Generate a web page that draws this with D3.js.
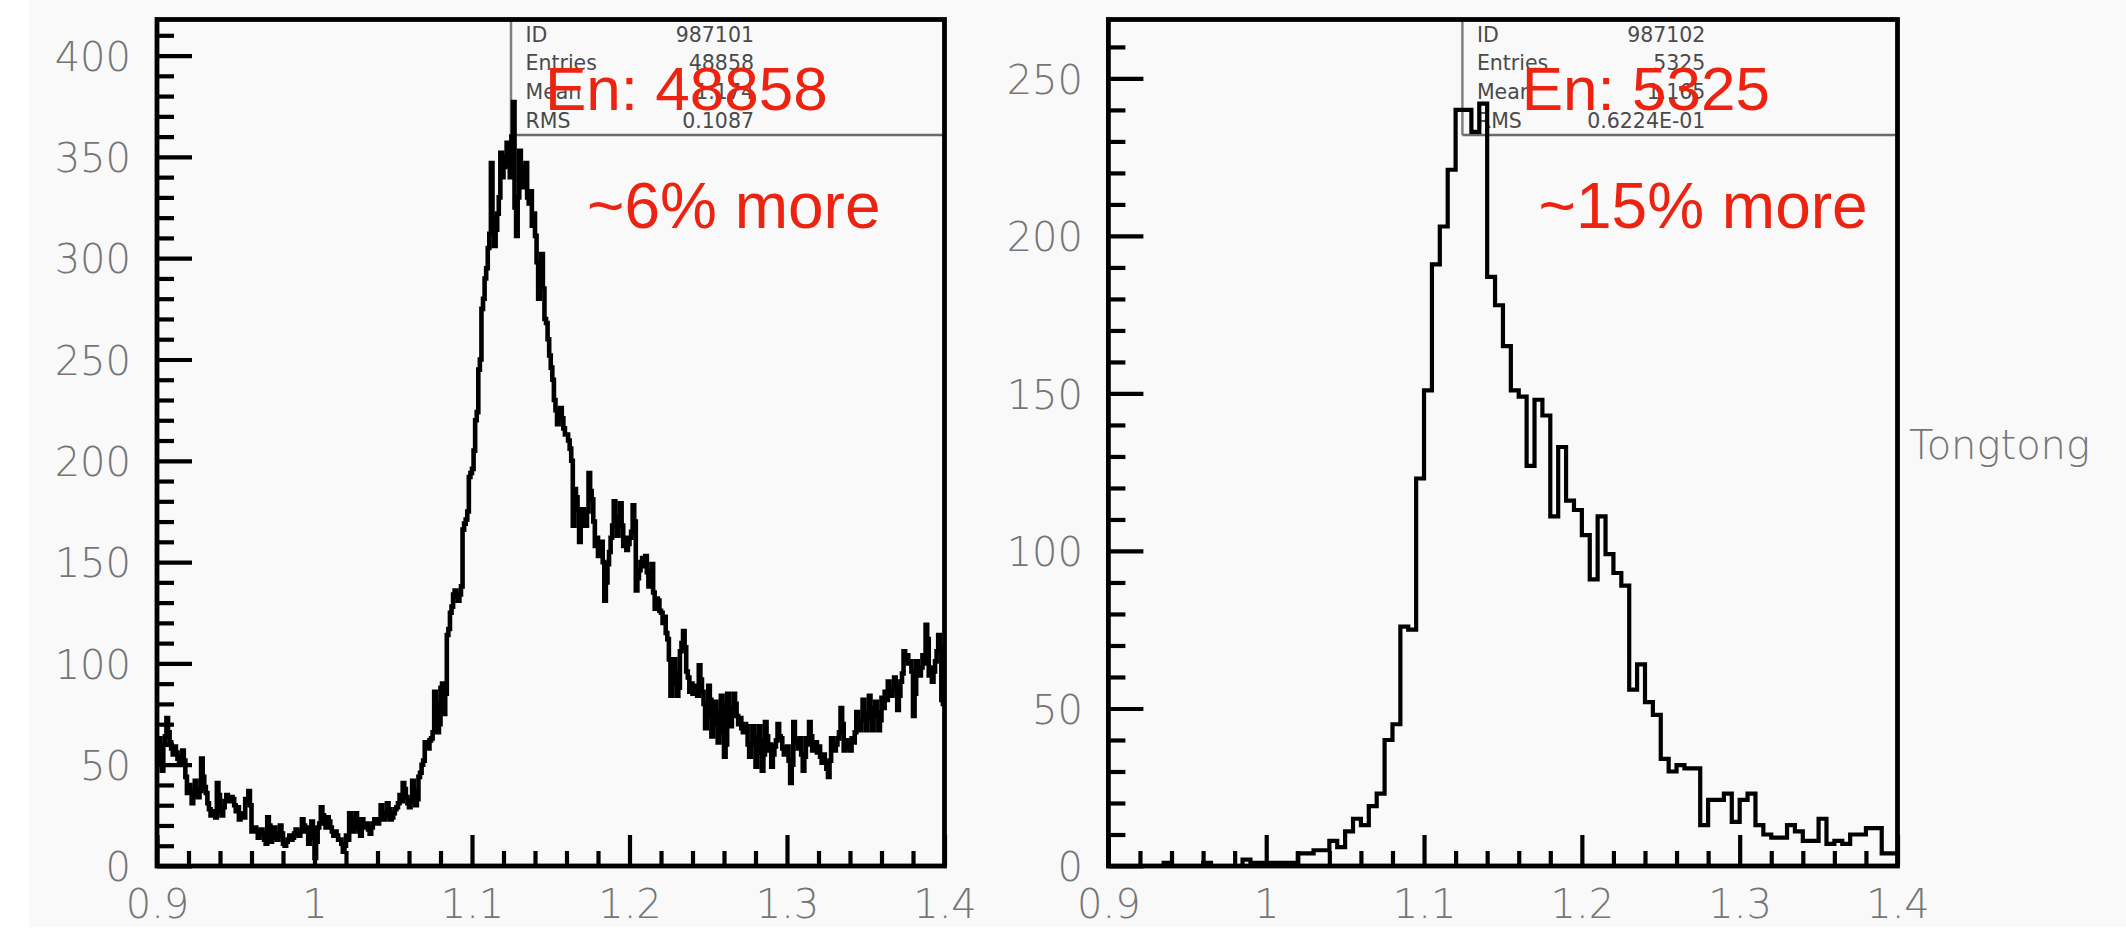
<!DOCTYPE html>
<html><head><meta charset="utf-8">
<script src="https://cdn.jsdelivr.net/npm/d3@7"></script>
<style>
html,body{margin:0;padding:0;background:#fff;}
svg{display:block;}
</style></head><body>
<svg id="c" width="2126" height="937"></svg>
<script>
// ---------- data ----------
const xRange = [0.9, 1.4];
const xTickValues = [0.9, 1.0, 1.1, 1.2, 1.3, 1.4];
const xTickLabels = ["0.9", "1", "1.1", "1.2", "1.3", "1.4"];
const leftYTicks = [0, 50, 100, 150, 200, 250, 300, 350, 400];
const rightYTicks = [0, 50, 100, 150, 200, 250];
const leftYMax = 417.8;
const rightYMax = 268.7;

// ID 987101 : 500 bins of 0.001 from 0.9 to 1.4
const leftCounts = [
58,63,52,47,60,64,73,66,61,58,55,59,56,53,50,54,57,52,44,36,40,37,31,35,42,38,34,37,53,44,39,36,31,28,25,27,26,24,41,35,27,25,29,32,35,33,32,34,33,30,
27,29,23,25,26,24,33,31,37,30,17,19,19,17,14,16,18,16,13,11,24,20,12,14,19,16,13,15,20,16,11,10,12,13,15,13,14,16,18,16,15,17,23,20,17,19,11,14,22,18,
4,12,19,21,29,25,21,19,24,22,19,17,15,17,15,13,13,11,7,10,15,13,26,24,17,19,26,23,17,15,23,21,19,21,18,16,19,21,23,21,21,23,30,26,23,25,31,28,23,24,
26,28,29,31,35,32,41,38,34,31,29,32,42,37,30,33,44,46,50,52,61,60,58,62,63,66,86,80,66,70,88,90,75,85,114,117,125,128,134,136,133,131,134,138,166,169,171,175,192,194,
196,205,220,224,245,250,275,280,290,295,305,312,347,320,306,314,322,330,352,340,345,350,357,346,340,360,377,325,311,330,353,345,335,342,347,330,327,333,316,322,311,298,280,295,302,285,270,268,260,252,
246,240,230,225,218,222,226,221,216,213,213,210,206,200,168,186,182,176,160,168,176,172,168,175,194,185,181,170,158,162,153,156,160,150,131,140,149,155,162,168,180,172,163,170,179,168,158,162,156,159,
162,165,178,170,136,142,146,150,152,148,153,145,138,142,149,135,127,132,131,126,125,120,123,115,112,102,84,90,102,96,84,88,106,110,116,108,96,93,86,90,85,88,89,84,99,92,86,80,68,74,
89,82,64,70,81,76,61,66,84,80,54,60,85,78,69,74,85,80,74,70,73,68,66,70,69,60,54,60,69,64,49,56,69,62,47,55,71,64,57,60,49,55,59,62,70,64,63,58,55,58,
59,52,41,50,71,62,61,58,63,55,47,54,63,60,71,64,57,60,61,56,59,54,51,55,51,48,44,52,63,58,57,60,63,66,78,70,57,62,61,58,57,63,61,66,76,70,67,72,82,76,
67,72,84,78,67,74,81,76,67,72,83,78,86,82,91,88,84,87,93,88,77,84,91,95,106,102,104,100,101,96,74,85,101,96,94,98,104,100,119,112,94,98,91,96,101,106,114,108,82,80
];

// ID 987102 : 100 bins of 0.005 from 0.9 to 1.4
const rightCounts = [
0,0,0,0,0,0,0,1,0,0,
0,0,1,0,0,0,0,2,1,1,
1,1,1,1,4,4,5,5,8,6,
11,15,13,19,23,40,45,76,75,123,
151,191,203,221,240,240,233,242,187,178,
165,151,149,127,148,143,111,133,116,113,
105,91,111,99,93,89,56,64,52,48,
34,30,32,31,31,13,21,21,23,14,
21,23,13,10,9,9,13,11,8,8,
15,7,8,7,10,10,12,12,4,4
];

const leftStatLabels = ["ID", "Entries", "Mean", "RMS"];
const leftStatValues = ["987101", "48858", "1.174", "0.1087"];
const rightStatLabels = ["ID", "Entries", "Mean", "RMS"];
const rightStatValues = ["987102", "5325", "1.165", "0.6224E-01"];
const leftNotes = ["En: 48858", "~6% more"];
const rightNotes = ["En: 5325", "~15% more"];
const sideLabel = "Tongtong";

// ---------- drawing ----------
const svg = d3.select("#c");
svg.append("rect").attr("x", 29).attr("y", 0).attr("width", 2126 - 29).attr("height", 927).attr("fill", "#f9f9f9");

const plotTop = 19.5, plotBottom = 866;
const labelFont = "'DejaVu Sans', sans-serif";
const labelColor = "#757575";

function panel(cfg) {
  const x = d3.scaleLinear().domain(xRange).range([cfg.x0, cfg.x1]);
  const y = d3.scaleLinear().domain([0, cfg.ymax]).range([plotBottom, plotTop]);
  const g = svg.append("g");

  // stats box
  const bx = cfg.x0 + 354, by = 135;
  g.append("line").attr("x1", bx).attr("x2", bx).attr("y1", plotTop).attr("y2", by)
    .attr("stroke", "#808080").attr("stroke-width", 2.5);
  g.append("line").attr("x1", bx).attr("x2", cfg.x1).attr("y1", by).attr("y2", by)
    .attr("stroke", "#6a6a6a").attr("stroke-width", 2.5);
  const baselines = [41.5, 70, 98.5, 127.5];
  cfg.statLabels.forEach((s, i) => {
    g.append("text").attr("x", bx + 14.5).attr("y", baselines[i]).text(s)
      .attr("font-family", labelFont).attr("font-size", 20.5).attr("fill", "#4a4a4a");
    g.append("text").attr("x", bx + 243).attr("y", baselines[i]).text(cfg.statValues[i])
      .attr("text-anchor", "end")
      .attr("font-family", labelFont).attr("font-size", 20.5).attr("fill", "#4a4a4a");
  });

  // minor / major ticks (inside)
  const minorY = d3.range(10, cfg.ymax, 10).filter(v => v % 50 !== 0);
  const majorY = cfg.yTicks;
  const yMinorAxis = d3.axisRight(y).tickValues(minorY).tickSize(17).tickFormat("");
  const yMajorAxis = d3.axisRight(y).tickValues(majorY).tickSize(35).tickFormat("");
  [yMinorAxis, yMajorAxis].forEach(ax => {
    const a = g.append("g").attr("transform", `translate(${cfg.x0},0)`).call(ax);
    a.select(".domain").remove();
    a.selectAll("line").attr("stroke", "#000").attr("stroke-width", 4.2);
  });
  const minorX = d3.range(0, 26).map(i => 0.9 + i * 0.02).filter((v, i) => i % 5 !== 0);
  const xMinorAxis = d3.axisTop(x).tickValues(minorX).tickSize(15).tickFormat("");
  const xMajorAxis = d3.axisTop(x).tickValues(xTickValues).tickSize(31).tickFormat("");
  [xMinorAxis, xMajorAxis].forEach(ax => {
    const a = g.append("g").attr("transform", `translate(0,${plotBottom})`).call(ax);
    a.select(".domain").remove();
    a.selectAll("line").attr("stroke", "#000").attr("stroke-width", 4.2);
  });

  // tick labels
  const yLab = g.append("g").attr("transform", `translate(${cfg.x0},0)`)
    .call(d3.axisLeft(y).tickValues(majorY).tickSize(0).tickPadding(cfg.yPad).tickFormat(d3.format("d")));
  yLab.select(".domain").remove();
  yLab.selectAll("text").attr("font-family", labelFont).attr("font-size", 40)
    .attr("font-weight", 200).attr("fill", labelColor).attr("dy", "0.37em");
  const xLab = g.append("g").attr("transform", `translate(0,${plotBottom})`)
    .call(d3.axisBottom(x).tickValues(xTickValues).tickSize(0).tickPadding(24)
      .tickFormat((d, i) => xTickLabels[i]));
  xLab.select(".domain").remove();
  xLab.selectAll("text").attr("font-family", labelFont).attr("font-size", 40)
    .attr("font-weight", 200).attr("fill", labelColor);

  // histogram
  const n = cfg.counts.length;
  const bw = (xRange[1] - xRange[0]) / n;
  const pts = cfg.counts.map((c, i) => [xRange[0] + i * bw, c]);
  pts.push([xRange[1], cfg.counts[n - 1]]);
  const line = d3.line().x(d => x(d[0])).y(d => y(d[1])).curve(d3.curveStepAfter);
  g.append("path").attr("d", line(pts)).attr("fill", "none").attr("stroke", "#000")
    .attr("stroke-width", cfg.lw).attr("stroke-linejoin", "miter");

  // frame
  g.append("rect").attr("x", cfg.x0).attr("y", plotTop).attr("width", cfg.x1 - cfg.x0)
    .attr("height", plotBottom - plotTop).attr("fill", "none").attr("stroke", "#000").attr("stroke-width", 4.8);

  // red annotations
  g.append("text").attr("x", cfg.note1x).attr("y", 110).text(cfg.notes[0])
    .attr("font-family", "'Liberation Sans', Arial, sans-serif").attr("font-size", 62).attr("fill", "#ec2310");
  g.append("text").attr("x", cfg.note2x).attr("y", 228).text(cfg.notes[1])
    .attr("font-family", "'Liberation Sans', Arial, sans-serif").attr("font-size", 64).attr("fill", "#ec2310");
}

panel({x0: 157, x1: 944.5, ymax: leftYMax, yTicks: leftYTicks, counts: leftCounts,
  statLabels: leftStatLabels, statValues: leftStatValues, notes: leftNotes,
  note1x: 545, note2x: 587, yPad: 26, lw: 4.6});
panel({x0: 1108.4, x1: 1897.5, ymax: rightYMax, yTicks: rightYTicks, counts: rightCounts,
  statLabels: rightStatLabels, statValues: rightStatValues, notes: rightNotes,
  note1x: 1521.7, note2x: 1538.6, yPad: 25.4, lw: 4.2});

svg.append("text").attr("x", 1909).attr("y", 459).text(sideLabel)
  .attr("font-family", labelFont).attr("font-size", 40).attr("font-weight", 200).attr("fill", labelColor);
</script>
</body></html>
